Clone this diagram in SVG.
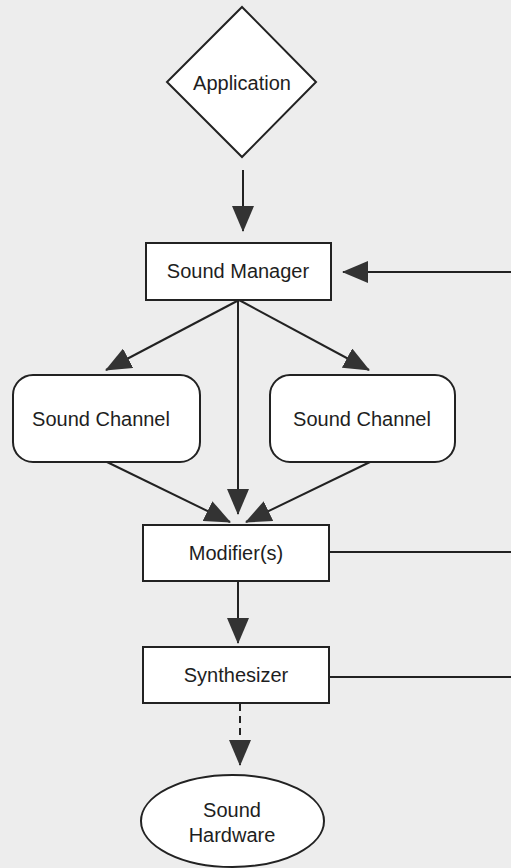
<svg xmlns="http://www.w3.org/2000/svg" width="511" height="868" viewBox="0 0 511 868">
  <style>
    .shape { fill: #ffffff; stroke: #222222; stroke-width: 2; }
    .label { font-family: "Liberation Sans", Arial, sans-serif; font-size: 20px; fill: #1e1e1e; text-anchor: middle; dominant-baseline: central; }
    .edge { fill: none; stroke: #222222; stroke-width: 2; }
    .dashed { stroke-dasharray: 7 5; }
  </style>
  <defs>
    <marker id="head" markerUnits="userSpaceOnUse" markerWidth="26" markerHeight="22" refX="25" refY="11" orient="auto" viewBox="0 0 26 22">
      <path d="M0,0 L26,11 L0,22 z" fill="#333333"/>
    </marker>
  </defs>

  <rect width="511" height="868" fill="#ededed"/>

  <g id="connectors">
    <line class="edge" x1="243" y1="170" x2="243" y2="231" marker-end="url(#head)"/>
    <line class="edge" x1="511" y1="272" x2="343" y2="272" marker-end="url(#head)"/>
    <line class="edge" x1="239" y1="300" x2="106" y2="370" marker-end="url(#head)"/>
    <line class="edge" x1="239" y1="300" x2="369" y2="370" marker-end="url(#head)"/>
    <line class="edge" x1="238" y1="300" x2="238" y2="514" marker-end="url(#head)"/>
    <line class="edge" x1="107" y1="462" x2="230" y2="522" marker-end="url(#head)"/>
    <line class="edge" x1="370" y1="462" x2="246" y2="522" marker-end="url(#head)"/>
    <line class="edge" x1="329" y1="552" x2="511" y2="552"/>
    <line class="edge" x1="238" y1="581" x2="238" y2="643" marker-end="url(#head)"/>
    <line class="edge" x1="329" y1="677" x2="511" y2="677"/>
    <line class="edge dashed" x1="240" y1="704" x2="240" y2="765" marker-end="url(#head)"/>
  </g>

  <g id="application">
    <polygon class="shape" points="242,7 316,82 242,157 167,82"/>
    <text class="label" x="242" y="83">Application</text>
  </g>

  <g id="sound-manager">
    <rect class="shape" x="146" y="243" width="185" height="57"/>
    <text class="label" x="238" y="271">Sound Manager</text>
  </g>

  <g id="sound-channel-left">
    <rect class="shape" x="13" y="375" width="187" height="87" rx="20" ry="20"/>
    <text class="label" x="101" y="419">Sound Channel</text>
  </g>

  <g id="sound-channel-right">
    <rect class="shape" x="270" y="375" width="185" height="87" rx="20" ry="20"/>
    <text class="label" x="362" y="419">Sound Channel</text>
  </g>

  <g id="modifiers">
    <rect class="shape" x="143" y="525" width="186" height="56"/>
    <text class="label" x="236" y="553">Modifier(s)</text>
  </g>

  <g id="synthesizer">
    <rect class="shape" x="143" y="647" width="186" height="56"/>
    <text class="label" x="236" y="675">Synthesizer</text>
  </g>

  <g id="sound-hardware">
    <ellipse class="shape" cx="232.5" cy="821" rx="91.5" ry="46"/>
    <text class="label" x="232" y="810">Sound</text>
    <text class="label" x="232" y="835">Hardware</text>
  </g>
</svg>
